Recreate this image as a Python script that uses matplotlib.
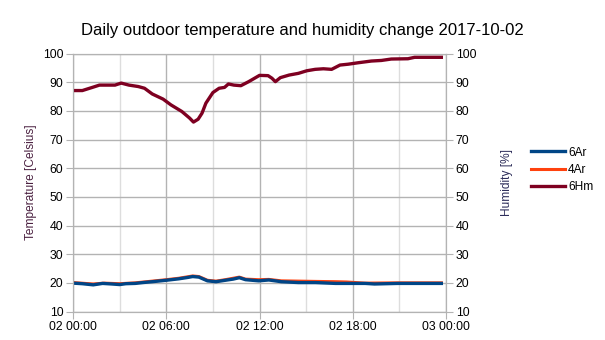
import matplotlib
matplotlib.use("Agg")
from matplotlib import pyplot as plt

plt.rcParams['font.family'] = ['Liberation Sans', 'DejaVu Sans']

# hours since 2017-10-02 00:00
t_6ar = [0, 0.6, 1.3, 1.9, 2.5, 3.0, 3.4, 4.0, 4.5, 5.1, 6.0, 6.8, 7.4, 7.7, 8.1,
         8.65, 9.2, 9.8, 10.3, 10.7, 11.1, 11.95, 12.6, 13.4, 14.5, 15.6, 16.9,
         18.8, 19.4, 20.9, 23.7]
temp_6ar = [19.9, 19.7, 19.3, 19.8, 19.6, 19.4, 19.7, 19.8, 20.1, 20.4, 20.9, 21.4,
            21.9, 22.2, 22.0, 20.7, 20.4, 20.9, 21.3, 21.8, 21.1, 20.7, 21.0, 20.4,
            20.1, 20.1, 19.8, 19.8, 19.6, 19.8, 19.8]

t_4ar = [0, 1.3, 2.0, 3.0, 4.0, 5.1, 6.0, 6.8, 7.7, 8.1, 8.65, 9.2, 9.8, 10.7,
         11.1, 11.95, 12.6, 13.4, 14.5, 15.6, 16.9, 17.6, 18.8, 20.9, 23.7]
temp_4ar = [20.1, 19.6, 19.9, 19.7, 20.0, 20.6, 21.1, 21.6, 22.4, 22.2, 20.9, 20.6,
            21.1, 22.0, 21.3, 21.1, 21.2, 20.7, 20.6, 20.5, 20.4, 20.3, 19.9, 20.0,
            20.0]

t_6hm = [0, 0.6, 1.3, 1.7, 2.7, 3.1, 3.6, 4.2, 4.6, 5.1, 5.8, 6.3, 7.0, 7.5, 7.75,
         8.05, 8.3, 8.55, 9.0, 9.4, 9.75, 10.0, 10.35, 10.8, 11.3, 12.0, 12.55,
         12.8, 13.02, 13.34, 13.9, 14.5, 15.04, 15.58, 16.11, 16.64, 17.18, 17.71,
         18.35, 19.2, 19.84, 20.48, 21.55, 21.98, 23.7]
hum_6hm = [87.1, 87.1, 88.3, 89.0, 89.0, 89.7, 89.0, 88.5, 87.9, 85.9, 84.1, 82.1,
           79.8, 77.5, 76.1, 77.1, 79.2, 82.7, 86.4, 87.9, 88.2, 89.4, 89.0, 88.8,
           90.2, 92.4, 92.3, 91.4, 90.2, 91.6, 92.5, 93.1, 94.0, 94.5, 94.7, 94.5,
           96.0, 96.3, 96.8, 97.4, 97.6, 98.1, 98.2, 98.7, 98.7]

x_ticks = [0, 6, 12, 18, 24]
x_labels = ["02 00:00", "02 06:00", "02 12:00", "02 18:00", "03 00:00"]
y_ticks = list(range(10, 101, 10))

c_6ar = '#004586'
c_4ar = '#ff420e'
c_6hm = '#7e0021'
grid_c = '#b3b3b3'

fig = plt.figure(figsize=(6.05, 3.4), dpi=100)
ax = fig.add_axes([0.1207, 0.0838, 0.6165, 0.7586])
ax2 = ax.twinx()

l4, = ax.plot(t_4ar, temp_4ar, color=c_4ar, lw=2.2, label='4Ar')
l6, = ax.plot(t_6ar, temp_6ar, color=c_6ar, lw=2.4, label='6Ar')
lh, = ax2.plot(t_6hm, hum_6hm, color=c_6hm, lw=2.4, label='6Hm')

for a in (ax, ax2):
    a.set_ylim(10, 100)
    a.set_yticks(y_ticks)
    a.tick_params(axis='y', labelsize=8.8, color=grid_c, length=5, pad=2)
    for s in a.spines.values():
        s.set_color(grid_c)

ax.set_xlim(0, 24)
ax.set_xticks(x_ticks)
ax.set_xticklabels(x_labels)
ax.set_xticks([3, 9, 15, 21], minor=True)
ax.tick_params(axis='x', which='major', labelsize=8.8, color=grid_c, length=5, pad=2)
ax.tick_params(axis='x', which='minor', length=0)
ax.grid(True, which='major', color=grid_c, lw=1)
ax.grid(True, which='minor', axis='x', color='#dddddd', lw=1)
ax.set_axisbelow(True)

ax.set_ylabel('Temperature [Celsius]', color='#4a2040', fontsize=8.6, labelpad=4)
ax2.set_ylabel('Humidity [%]', color='#2d2d5a', fontsize=8.6, labelpad=18)

fig.text(0.5, 0.909, 'Daily outdoor temperature and humidity change 2017-10-02',
         fontsize=12, ha='center', va='center')

fig.legend([l6, l4, lh], ['6Ar', '4Ar', '6Hm'], loc='center left',
           bbox_to_anchor=(0.878, 0.5), frameon=False, fontsize=8.6,
           handlelength=2.8, handletextpad=0.3, labelspacing=0.45,
           borderpad=0, borderaxespad=0)

fig.savefig('out.png', dpi=100)
